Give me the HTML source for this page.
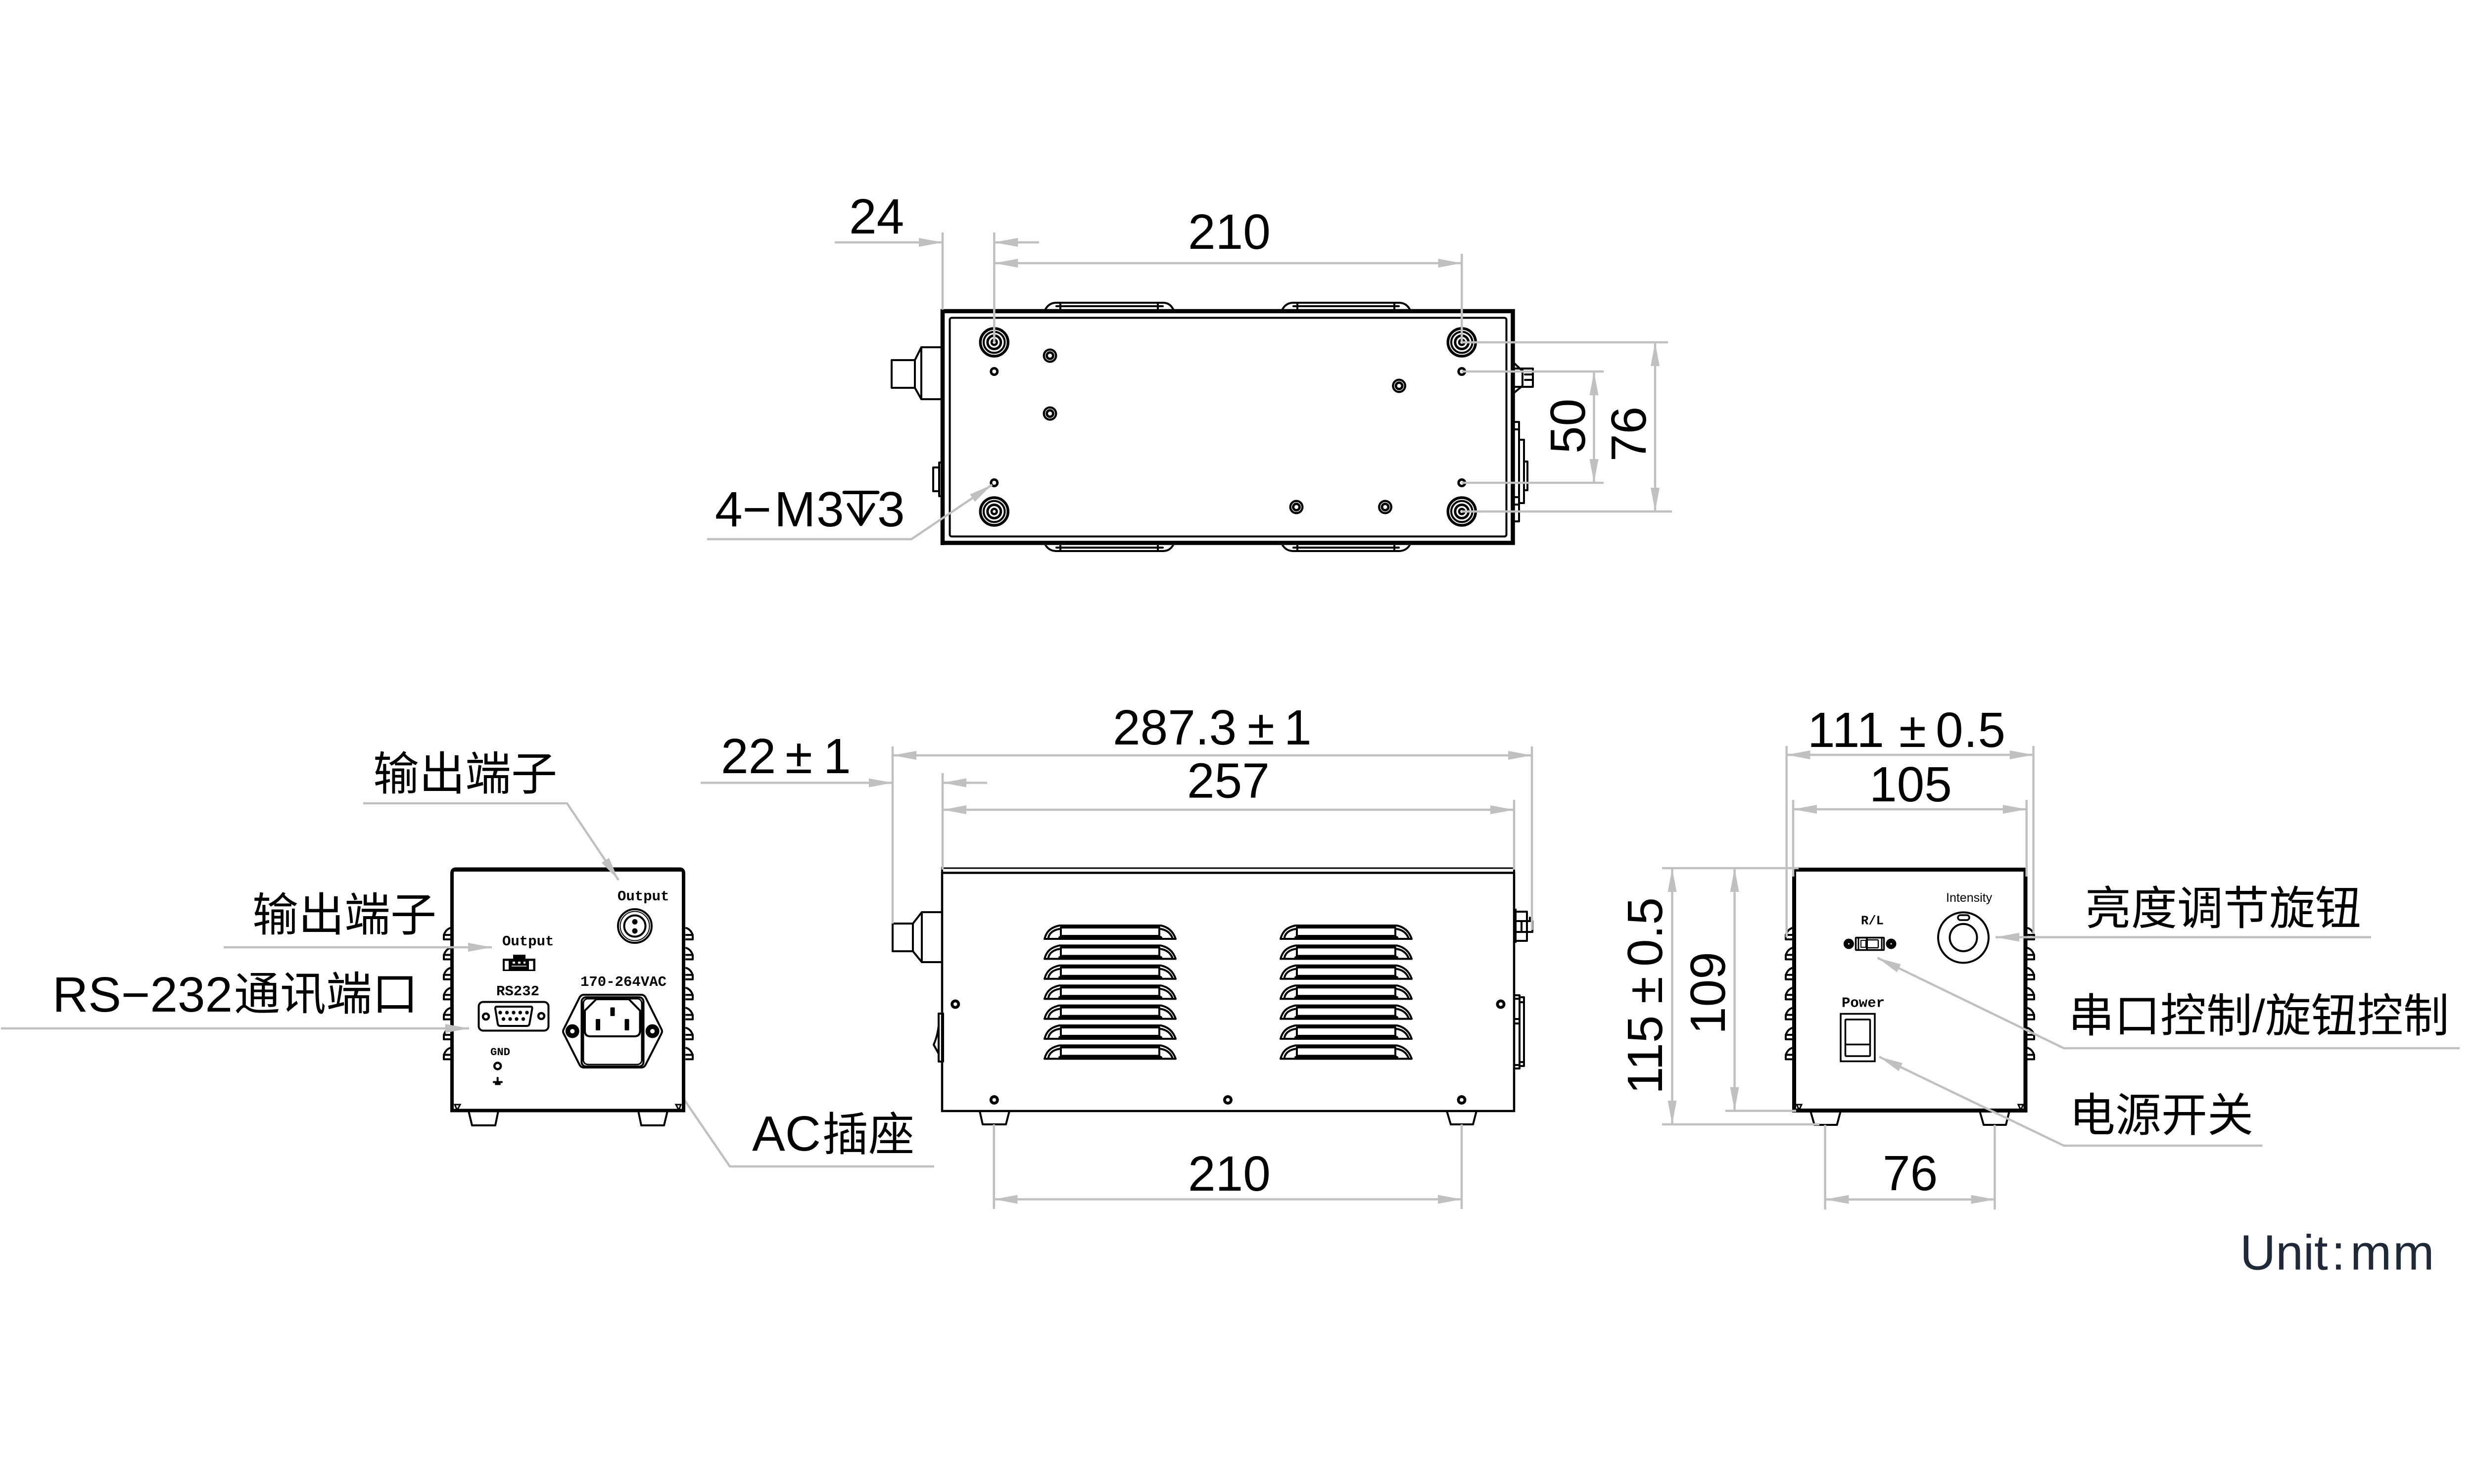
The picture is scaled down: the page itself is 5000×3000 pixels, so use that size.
<!DOCTYPE html>
<html><head><meta charset="utf-8"><style>
html,body{margin:0;padding:0;background:#fff}
svg{display:block}
.t{font:100px "Liberation Sans","Noto Sans CJK SC",sans-serif;fill:#000}
.c{font:93px "Liberation Sans","Noto Sans CJK SC",sans-serif;fill:#000}
.m{font:bold 29px "Liberation Mono",monospace;fill:#000}
.d{fill:none;stroke:#c0c0c0;stroke-width:4.5}
.dm{fill:none;stroke:#c0c0c0;stroke-width:4.5;marker-end:url(#a)}
.db{fill:none;stroke:#c0c0c0;stroke-width:4.5;marker-start:url(#a);marker-end:url(#a)}
.k{fill:none;stroke:#000;stroke-width:4;stroke-linejoin:round;stroke-linecap:round}
.k3{fill:none;stroke:#000;stroke-width:3;stroke-linejoin:round}
</style></head><body>
<svg xmlns="http://www.w3.org/2000/svg" width="5000" height="3000" viewBox="0 0 5000 3000">
<defs>
<marker id="a" markerUnits="userSpaceOnUse" markerWidth="50" markerHeight="18" refX="48" refY="9" orient="auto-start-reverse"><path d="M0,0L48,9L0,18Z" fill="#c0c0c0"/></marker>
<g id="lv">
<path class="k" stroke-width="5" d="M0,27C4,12 12,4 30,0H235C250,3 260,12 265,27Z"/>
<path class="k" d="M8,24C10,15 18,9 30,7M33,4V25M232,4V25M235,7C247,9 254,15 258,24M30,24L36,21H230L236,24"/>
<path d="M33,1H232V6H33zM33,21H232V27H33z" fill="#000"/>
</g>
<g id="lvs"><use href="#lv"/><use href="#lv" y="40.4"/><use href="#lv" y="80.8"/><use href="#lv" y="121.2"/><use href="#lv" y="161.6"/><use href="#lv" y="202"/><use href="#lv" y="242.4"/></g>
<g id="finL"><path class="k" d="M13,0C4,3 0,12 0,17V23H13"/><path class="k" d="M0,14H13"/></g>
<g id="finsL"><use href="#finL"/><use href="#finL" y="40.4"/><use href="#finL" y="80.8"/><use href="#finL" y="121.2"/><use href="#finL" y="161.6"/><use href="#finL" y="202"/><use href="#finL" y="242.4"/></g>
<g id="foot"><circle r="28" fill="none" stroke="#000" stroke-width="5.5"/><circle r="21.3" fill="none" stroke="#000" stroke-width="4"/><circle r="13.5" fill="none" stroke="#000" stroke-width="5"/><circle r="5.3" fill="none" stroke="#000" stroke-width="4.5"/></g>
<g id="med"><circle r="14.5" fill="#000"/><circle r="9.5" fill="none" stroke="#fff" stroke-width="1.2"/><circle r="4" fill="#fff"/></g>
<g id="sm"><circle r="9" fill="#000"/><circle r="4" fill="#fff"/></g>
<g id="h"><circle r="9.5" fill="#000"/><circle r="3.8" fill="#fff"/></g>
</defs>
<rect width="5000" height="3000" fill="#fff"/>

<!-- TOP VIEW -->
<path class="k" d="M2113,625C2118,616 2125,612 2135,612H2350C2360,612 2366,616 2371,625M2135,619H2350M2143,614V625M2340,614V625"/>
<path class="k" d="M2592,625C2597,616 2604,612 2614,612H2827C2837,612 2844,616 2849,625M2614,619H2827M2622,614V625M2818,614V625"/>
<path class="k" d="M2113,1102C2118,1110 2125,1114 2135,1114H2350C2360,1114 2366,1110 2371,1102M2135,1107H2350M2143,1102V1112M2340,1102V1112"/>
<path class="k" d="M2592,1102C2597,1110 2604,1114 2614,1114H2827C2837,1114 2844,1110 2849,1102M2614,1107H2827M2622,1102V1112M2818,1102V1112"/>
<path d="M1902,625H3062V1102H1902Z" fill="#fff"/>
<path d="M1905,629H3057.5V1097.5H1905Z" fill="none" stroke="#000" stroke-width="8.5"/>
<path d="M1905,625V1102" stroke="#000" stroke-width="6"/>
<rect x="1919.5" y="642.5" width="1125" height="442" rx="4" fill="none" stroke="#000" stroke-width="4"/>
<path class="k" d="M1802,728H1849L1862,702H1906V807H1862L1849,784H1802ZM1849,728V784M1862,702V807"/>
<path class="k" d="M1886,945H1898V993H1886ZM1898,935H1906V1003H1898Z"/>
<path class="k" d="M3060,734L3077,750V780L3060,794M3060,745H3098V782H3060M3077,745V782M3082,757H3098M3082,768H3098"/>
<path class="k" d="M3060,853H3070V1054H3060M3060,868H3070M3060,1005H3070M3060,1020H3070M3070,889H3080V1017H3070M3080,933H3087V991H3080"/>
<use href="#foot" x="2009.3" y="692"/><use href="#foot" x="2009.3" y="1034"/><use href="#foot" x="2954.3" y="692"/><use href="#foot" x="2954.3" y="1034"/>
<use href="#sm" x="2009.3" y="751"/><use href="#sm" x="2009.3" y="976"/><use href="#sm" x="2954.3" y="751"/><use href="#sm" x="2954.3" y="976"/>
<use href="#med" x="2122" y="719"/><use href="#med" x="2122" y="836"/><use href="#med" x="2827.6" y="780"/><use href="#med" x="2620" y="1025"/><use href="#med" x="2799.5" y="1025"/>

<!-- top view dims -->
<path class="d" d="M1905,470V626M2009.3,470V692M2954.3,513V692M2954,692H3371M2954,1034H3379M2954,751H3241M2954,976H3241"/>
<path class="dm" d="M1687,490H1905"/><path class="dm" d="M2100,490H2009.3"/>
<path class="db" d="M2009.3,532H2954.3"/>
<path class="db" d="M3221.5,751V976"/><path class="db" d="M3345,692V1034"/>
<path class="dm" d="M1429,1090H1842L2005,980"/>
<text class="t" x="1716" y="472">24</text>
<text class="t" x="2401" y="503">210</text>
<text class="t" transform="translate(3203,914) rotate(-90)" x="-3">50</text>
<text class="t" transform="translate(3326,930) rotate(-90)" x="-3">76</text>
<text class="t" x="1445" y="1064">4−</text><text class="t" x="1565" y="1064">M</text><text class="t" x="1650" y="1064">3</text>
<path d="M1706,995.5H1774M1740,995.5V1060M1715,1020L1740,1060L1765,1020" fill="none" stroke="#000" stroke-width="7" stroke-linecap="round" stroke-linejoin="round"/>
<text class="t" x="1773" y="1064">3</text>

<!-- FRONT VIEW -->
<path d="M1904,1755H3060" stroke="#000" stroke-width="3"/>
<path d="M1904,1764.5H3060V2246H1904Z" fill="none" stroke="#000" stroke-width="4.5"/>
<path class="k" d="M1904,1754V1766M3060,1754V1766"/>
<use href="#lvs" x="2111" y="1871"/><use href="#lvs" x="2588" y="1871"/>
<path class="k" d="M1980,2246L1986,2273H2033L2040,2246M2924,2246L2932,2273H2977L2984,2246"/>
<use href="#h" x="1930.7" y="2030"/><use href="#h" x="3033" y="2030"/><use href="#h" x="2009.3" y="2223.5"/><use href="#h" x="2481.5" y="2223.5"/><use href="#h" x="2954" y="2223.5"/>
<path class="k" d="M1804,1867H1845V1923H1804ZM1845,1867L1863,1844H1904M1845,1923L1863,1945H1904M1863,1844V1945"/>
<path class="k" d="M1897,2049H1906V2146H1897ZM1897,2074C1895,2090 1892,2100 1887,2112L1897,2130"/>
<path d="M3060,1837H3065V1906H3060Z" fill="#000"/>
<path class="k" d="M3064,1843H3086V1902H3064M3064,1862H3097V1884H3064M3075,1862V1884M3092,1855V1862"/>
<path class="k" d="M3062,2012H3071V2160H3062M3062,2019H3071M3062,2060H3071M3062,2069H3071M3062,2153H3071M3071,2016H3080V2155H3071M3071,2026H3080M3071,2147H3080"/>
<!-- front dims -->
<path class="d" d="M1804,1509V1867M3096,1509V1880M1905,1563V1758M3060,1617V1758M2008.7,2273V2444M2954,2273V2444"/>
<path class="db" d="M1804,1527H3096"/>
<path class="dm" d="M1416,1582.5H1804"/><path class="dm" d="M1995,1582.5H1905"/>
<path class="db" d="M1905,1637H3060"/>
<path class="db" d="M2008.7,2424.5H2954"/>
<text class="t" x="2249" y="1505">287.3</text><text class="t" x="2521" y="1505">±</text><text class="t" x="2595" y="1505">1</text>
<text class="t" x="1457" y="1563">22</text><text class="t" x="1587" y="1563">±</text><text class="t" x="1664" y="1563">1</text>
<text class="t" x="2399" y="1612.5">257</text>
<text class="t" x="2401" y="2407">210</text>
<text x="1520" y="2326" class="t">AC</text><text class="c" x="1662" y="2326">插座</text>
<path class="dm" d="M1888,2358H1475L1337,2156"/>

<!-- LEFT VIEW -->
<path class="k" d="M947,2246L954,2275H1001L1007,2246M1290,2246L1296,2275H1342L1349,2246"/>
<use href="#finsL" x="897" y="1876"/>
<use href="#finsL" transform="translate(1400,1876) scale(-1,1)"/>
<path d="M913.5,2245V1766Q913.5,1757 921,1757H1374Q1381.5,1757 1381.5,1766V2245Z" fill="#fff" stroke="#000" stroke-width="7"/>
<path d="M917,1758.5H1378" stroke="#000" stroke-width="7"/>
<path d="M917,2245.5H1378" stroke="#000" stroke-width="3.5"/>
<path d="M919,2233L930,2233L924,2244ZM1376,2233L1366,2233L1372,2244Z" fill="none" stroke="#000" stroke-width="3"/>
<text class="m" x="1248" y="1820">Output</text>
<circle cx="1283" cy="1872" r="34" fill="none" stroke="#000" stroke-width="4"/><circle cx="1283" cy="1872" r="29.5" fill="none" stroke="#000" stroke-width="2"/><circle cx="1283" cy="1872" r="21.5" fill="none" stroke="#000" stroke-width="4"/>
<circle cx="1283" cy="1863.5" r="5.5"/><circle cx="1283" cy="1882" r="5.5"/>
<text class="m" x="1015" y="1911">Output</text>
<rect x="1016" y="1938" width="66" height="25" fill="#000"/><rect x="1037" y="1930" width="25" height="9" fill="#000"/>
<rect x="1020" y="1942.5" width="8" height="17.5" fill="#fff"/><rect x="1069" y="1942.5" width="8.5" height="17.5" fill="#fff"/>
<path d="M1034,1953H1064" stroke="#fff" stroke-width="1.5"/><rect x="1036" y="1944" width="5" height="4" fill="#fff"/><rect x="1047" y="1944" width="5" height="4" fill="#fff"/><rect x="1058" y="1944" width="4" height="4" fill="#fff"/>
<text class="m" x="1003" y="2012">RS232</text>
<rect x="967.5" y="2025.5" width="141" height="58" rx="9" class="k"/>
<circle cx="982" cy="2055" r="6" fill="none" stroke="#000" stroke-width="4.5"/><circle cx="1094" cy="2054" r="6" fill="none" stroke="#000" stroke-width="4.5"/>
<path class="k" d="M1004,2035H1073Q1076,2035 1075.5,2039L1070,2070Q1069,2074 1065,2074H1011Q1007,2074 1006,2070L1001,2039Q1001,2035 1004,2035Z"/>
<g fill="#000"><circle cx="1011" cy="2047" r="3.7"/><circle cx="1024.6" cy="2047" r="3.7"/><circle cx="1038" cy="2047" r="3.7"/><circle cx="1051.4" cy="2047" r="3.7"/><circle cx="1065" cy="2047" r="3.7"/><circle cx="1017.5" cy="2060" r="3.7"/><circle cx="1031" cy="2060" r="3.7"/><circle cx="1044" cy="2060" r="3.7"/><circle cx="1057.5" cy="2060" r="3.7"/></g>
<text class="m" x="1173" y="1993">170-264VAC</text>
<path class="k" d="M1180,2011H1296Q1302,2011 1305,2017L1337,2081Q1339,2085 1337,2089L1305,2152Q1302,2158 1296,2158H1180Q1174,2158 1171,2152L1139,2089Q1137,2085 1139,2081L1171,2017Q1174,2011 1180,2011Z"/>
<rect x="1175.5" y="2016" width="125" height="140" rx="9" class="k"/>
<rect x="1179" y="2019" width="118" height="133" rx="9" class="k3" stroke-width="2"/>
<path class="k" d="M1205,2020H1271L1293.5,2043V2084Q1293.5,2095 1282,2095H1193Q1182,2095 1182,2084V2043Z"/>
<rect x="1233.5" y="2036.5" width="9" height="17.5" rx="1.5"/><rect x="1204" y="2060" width="9" height="23" rx="1.5"/><rect x="1262.5" y="2060" width="9" height="23" rx="1.5"/>
<circle cx="1156.8" cy="2084.6" r="14" /><circle cx="1156.8" cy="2084.6" r="4.5" fill="#fff"/><circle cx="1318.6" cy="2084.6" r="14"/><circle cx="1318.6" cy="2084.6" r="4.5" fill="#fff"/>
<text class="m" x="991" y="2133" style="font-size:22px" textLength="40" lengthAdjust="spacingAndGlyphs">GND</text>
<circle cx="1005.7" cy="2155" r="6.5" fill="none" stroke="#000" stroke-width="4.5"/>
<path class="k" d="M1005.7,2179V2188M998,2187.5H1014M1002,2191.5H1010"/>
<!-- left labels -->
<path class="dm" d="M734,1624H1146L1250,1779"/>
<path class="dm" d="M452,1915H994"/>
<path class="dm" d="M2,2079H948"/>
<text class="c" x="754" y="1597">输出端子</text>
<text class="c" x="510" y="1882">输出端子</text>
<text class="t" x="106" y="2045">RS−232</text><text class="c" x="473" y="2042">通讯端口</text>

<!-- RIGHT VIEW -->
<path class="k" d="M3659,2246L3667,2274H3712.5L3720,2246M4001,2246L4009,2274H4054L4061,2246"/>
<use href="#finsL" x="3609" y="1876"/>
<use href="#finsL" transform="translate(4111,1876) scale(-1,1)"/>
<path d="M3626,2245V1758H4093.5V2245Z" fill="#fff" stroke="#000" stroke-width="8"/>
<path d="M3630,2245H4090" stroke="#000" stroke-width="3.5" fill="none"/>
<path d="M3631,2233H3641L3636,2244ZM4089,2233H4079L4084,2244Z" fill="none" stroke="#000" stroke-width="3"/>
<text style="font:25px 'Liberation Sans',sans-serif" x="3933" y="1823">Intensity</text>
<circle cx="3968" cy="1895.4" r="51" fill="none" stroke="#000" stroke-width="4"/>
<circle cx="3968" cy="1895.4" r="27.5" fill="none" stroke="#000" stroke-width="4"/>
<rect x="3957" y="1850" width="23" height="10" rx="5" fill="none" stroke="#000" stroke-width="3.5"/>
<text class="m" x="3761" y="1868.5" style="font-size:25.5px">R/L</text>
<rect x="3750.5" y="1895.5" width="57" height="25" rx="1" fill="none" stroke="#000" stroke-width="3.5"/>
<path d="M3756,1896V1920M3803,1896V1920" stroke="#000" stroke-width="3"/>
<path d="M3761,1901V1915H3771V1901Z" fill="none" stroke="#000" stroke-width="2"/><path d="M3771,1896H3775V1920H3771Z"/><path d="M3775,1900H3796M3775,1916H3796M3796,1900V1916" stroke="#000" stroke-width="2.5"/>
<circle cx="3736.4" cy="1908" r="10.5"/><circle cx="3736.4" cy="1908" r="1.5" fill="#fff"/><circle cx="3822" cy="1908" r="10.5"/><circle cx="3822" cy="1908" r="1.5" fill="#fff"/>
<text class="m" x="3722" y="2035.5">Power</text>
<rect x="3720" y="2049.5" width="69" height="96" fill="none" stroke="#000" stroke-width="3.5"/>
<rect x="3729.5" y="2061" width="50" height="74" rx="1.5" fill="none" stroke="#000" stroke-width="3.5"/>
<path d="M3730,2111.5H3779" stroke="#000" stroke-width="3.5"/>
<!-- right dims -->
<path class="d" d="M3610.7,1508V1895M4109.6,1508V1888M3624,1617V1772M4095.7,1617V1772M3688.6,2274V2445M4031.4,2274V2445M3359,1755H3635M3359,2273H3677M3487,2245.6H3630"/>
<path class="db" d="M3610.7,1526H4109.6"/>
<path class="db" d="M3624,1636H4095.7"/>
<path class="db" d="M3688.6,2424.7H4031.4"/>
<path class="db" d="M3379.5,1755V2273"/>
<path class="db" d="M3505.6,1755V2245.6"/>
<text class="t" x="3653" y="1510" style="letter-spacing:1.5px">111</text><text class="t" x="3838" y="1510">±</text><text class="t" x="3912" y="1510" style="letter-spacing:1px">0.5</text>
<text class="t" x="3778" y="1620">105</text>
<text class="t" x="3805" y="2406">76</text>
<text class="t" transform="translate(3359,2212) rotate(-90)">115</text>
<text class="t" transform="translate(3359,2029) rotate(-90)">±</text>
<text class="t" transform="translate(3359,1954) rotate(-90)" style="letter-spacing:.5px">0.5</text>
<text class="t" transform="translate(3486,2091) rotate(-90)">109</text>
<path class="dm" d="M4792,1894.6H4033"/>
<path class="dm" d="M4971,2119H4171L3794.6,1936.4"/>
<path class="dm" d="M4572.5,2316H4171L3798,2136.4"/>
<text class="c" x="4214" y="1869">亮度调节旋钮</text>
<text class="c" x="4180" y="2086">串口控制/旋钮控制</text>
<text class="c" x="4182" y="2287">电源开关</text>
<g fill="#1f2937" style="font:100px 'Liberation Sans',sans-serif"><text x="4527" y="2566.5">Unit</text><text x="4712" y="2566.5">:</text><text x="4750" y="2566.5" style="letter-spacing:3px">mm</text></g>
</svg>
</body></html>
